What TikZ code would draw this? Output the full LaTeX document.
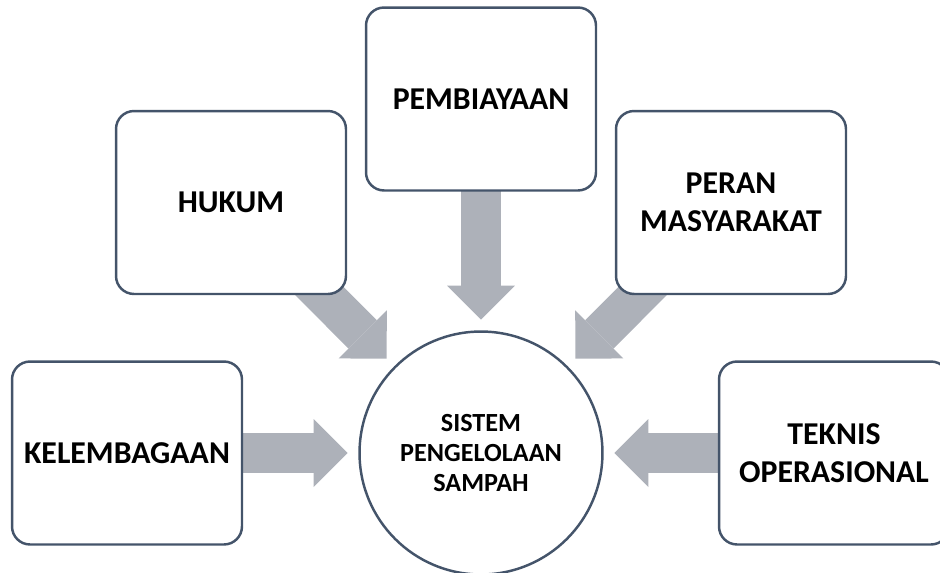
\documentclass[tikz,border=0pt]{standalone}
\usepackage{fontspec}
\setmainfont{Carlito}
\usetikzlibrary{arrows.meta,backgrounds}
\definecolor{sgslate}{RGB}{68,84,106}
\definecolor{sggray}{RGB}{173,177,185}

\begin{document}
\begin{tikzpicture}[
    x=0.02cm, y=-0.02cm,
    pilarbox/.style={draw=sgslate,line width=1.4pt,fill=white,rounded corners=0.36cm,align=center,minimum width=4.6cm,minimum height=3.66cm,font=\fontsize{18.1}{21.5}\selectfont\bfseries},
    corebox/.style={circle,draw=sgslate,line width=1.4pt,fill=white,align=center,minimum size=4.86cm,font=\fontsize{14.9}{17}\selectfont\bfseries},
    bigarrow/.style={sggray,line width=0.8cm,shorten >=2.67cm,-{Triangle[length=0.68cm,width=1.36cm,line width=0pt]}}
  ]
    \useasboundingbox (0,0) rectangle (940,572);
    \clip (0,0) rectangle (940,572);
    \node[corebox] (sistem) at (481,453) {SISTEM\\PENGELOLAAN\\SAMPAH};
    \node[pilarbox] (kel) at (127,453) {KELEMBAGAAN};
    \node[pilarbox] (hukum) at (231,202.5) {HUKUM};
    \node[pilarbox] (biaya) at (481,99) {PEMBIAYAAN};
    \node[pilarbox] (peran) at (731,202.5) {PERAN\\MASYARAKAT};
    \node[pilarbox] (teknis) at (834,453) {TEKNIS\\OPERASIONAL};
    \begin{scope}[on background layer]
      \draw[bigarrow] (kel.center) -- (sistem.center);
      \draw[bigarrow] (hukum.center) -- (sistem.center);
      \draw[bigarrow] (biaya.center) -- (sistem.center);
      \draw[bigarrow] (peran.center) -- (sistem.center);
      \draw[bigarrow] (teknis.center) -- (sistem.center);
    \end{scope}
\end{tikzpicture}
\end{document}
